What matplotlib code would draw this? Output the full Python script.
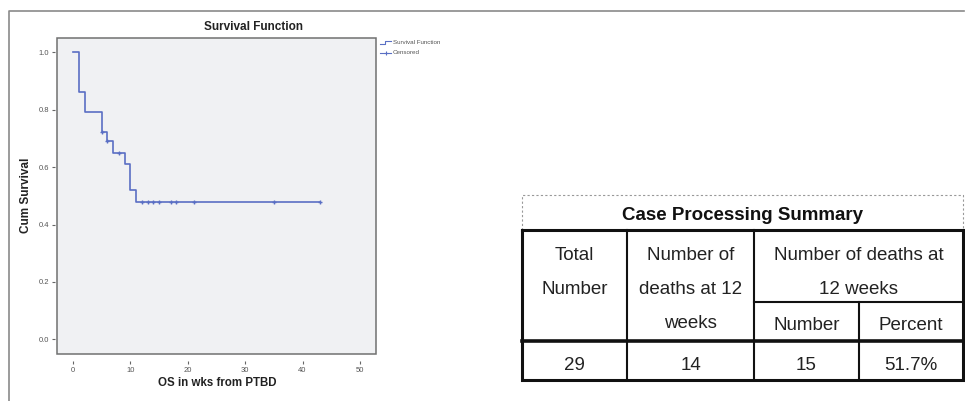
import numpy as np
import matplotlib
matplotlib.use("Agg")
import matplotlib.pyplot as plt

plt.rcParams['font.family'] = ['Liberation Sans', 'DejaVu Sans']

# Kaplan-Meier steps
event_times = [0, 1, 2, 5, 6, 7, 9, 10, 11, 43]
cum_survival = [1.0, 0.862, 0.793, 0.724, 0.690, 0.651, 0.610, 0.522, 0.477, 0.477]
censored_times = [5, 6, 8, 12, 13, 14, 15, 17, 18, 21, 35, 43]

x_ticks = [0, 10, 20, 30, 40, 50]
y_ticks = [0.0, 0.2, 0.4, 0.6, 0.8, 1.0]

# Case processing summary table
header_top = [['Total', 'Number'], ['Number of', 'deaths at 12', 'weeks'], ['Number of deaths at', '12 weeks']]
header_sub = ['Number', 'Percent']
row_values = ['29', '14', '15', '51.7%']

line_col = '#5a6fc4'

fig = plt.figure(figsize=(9.65, 4.01), dpi=100)
W, H = 965, 401
ax = fig.add_axes([57 / W, 1 - 354 / H, 319 / W, 316 / H])
ax.set_facecolor('#f0f1f3')

ax.step(event_times, cum_survival, where='post', color=line_col, lw=1.2)
idx = np.searchsorted(event_times, censored_times, side='right') - 1
cens_y = np.array(cum_survival)[idx]
ax.plot(censored_times, cens_y, ls='none', marker='+', ms=3.5, mew=1.0, color=line_col)

ax.set_xlim(-2.8, 52.8)
ax.set_ylim(-0.051, 1.05)
ax.set_xticks(x_ticks)
ax.set_yticks(y_ticks)
ax.set_yticklabels([f'{v:.1f}' for v in y_ticks])
ax.tick_params(direction='out', length=2.5, width=0.8, color='#666666',
               labelsize=5.5, labelcolor='#555555', pad=1.5)
for s in ax.spines.values():
    s.set_color('none')
ax.spines['bottom'].set_position(('outward', 5))
ax.spines['left'].set_position(('outward', 1.5))
ax.add_patch(plt.Rectangle((0, 0), 1, 1, transform=ax.transAxes, fill=False,
                           ec='#707070', lw=1.1, clip_on=False, zorder=5))

# overlay in pixel coordinates for frame, labels, legend and table
ov = fig.add_axes([0, 0, 1, 1])
ov.set_xlim(0, W)
ov.set_ylim(H, 0)
ov.axis('off')

ov.plot([9, 9, 964], [401, 11, 11], color='#8a8a8a', lw=1.2)

ov.text(254, 27, 'Survival Function', ha='center', va='center', fontsize=8.5, fontweight='bold', color='#222222')
ov.text(217, 383, 'OS in wks from PTBD', ha='center', va='center', fontsize=8.3, fontweight='bold', color='#222222')
ov.text(26, 195, 'Cum Survival', ha='center', va='center', rotation=90, fontsize=8.5, fontweight='bold', color='#222222')

# legend
ov.plot([380, 385, 385, 391], [43.5, 43.5, 40.5, 40.5], color=line_col, lw=0.8)
ov.text(393, 42, 'Survival Function', ha='left', va='center', fontsize=4.5, color='#555555')
ov.plot([380, 391], [52.5, 52.5], color=line_col, lw=0.8)
ov.plot([385.5], [52.5], marker='+', ms=3.5, mew=0.8, color=line_col)
ov.text(393, 52.5, 'Censored', ha='left', va='center', fontsize=4.5, color='#555555')

# table
tl, tr = 522, 963
c1, c2, c3 = 627, 754, 859
ytop, ysplit, yhead, ybot = 230, 302, 341, 380
ov.plot([tl, tl, tr, tr], [230, 195, 195, 230], color='#999999', lw=0.8, ls=(0, (2, 2)))
ov.text((tl + tr) / 2, 216, 'Case Processing Summary', ha='center', va='center', fontsize=13.5, fontweight='bold', color='#111111')
ov.plot([tl, tr, tr, tl, tl], [ytop, ytop, ybot, ybot, ytop], color='#111111', lw=2.2, solid_joinstyle='miter')
ov.plot([tl, tr], [yhead, yhead], color='#111111', lw=2.6)
for xc in (c1, c2):
    ov.plot([xc, xc], [ytop, ybot], color='#111111', lw=1.5)
ov.plot([c3, c3], [ysplit, ybot], color='#111111', lw=1.5)
ov.plot([c2, tr], [ysplit, ysplit], color='#111111', lw=1.5)

col_centers = [(tl + c1) / 2, (c1 + c2) / 2, (c2 + tr) / 2]
for xc, lines in zip(col_centers, header_top):
    for i, t in enumerate(lines):
        ov.text(xc, 256 + 34 * i, t, ha='center', va='center', fontsize=13.5, color='#222222')
for xc, t in zip([(c2 + c3) / 2, (c3 + tr) / 2], header_sub):
    ov.text(xc, 326, t, ha='center', va='center', fontsize=13.5, color='#222222')
for xc, t in zip([(tl + c1) / 2, (c1 + c2) / 2, (c2 + c3) / 2, (c3 + tr) / 2], row_values):
    ov.text(xc, 366, t, ha='center', va='center', fontsize=13.5, color='#222222')

fig.savefig('out.png', dpi=100)
